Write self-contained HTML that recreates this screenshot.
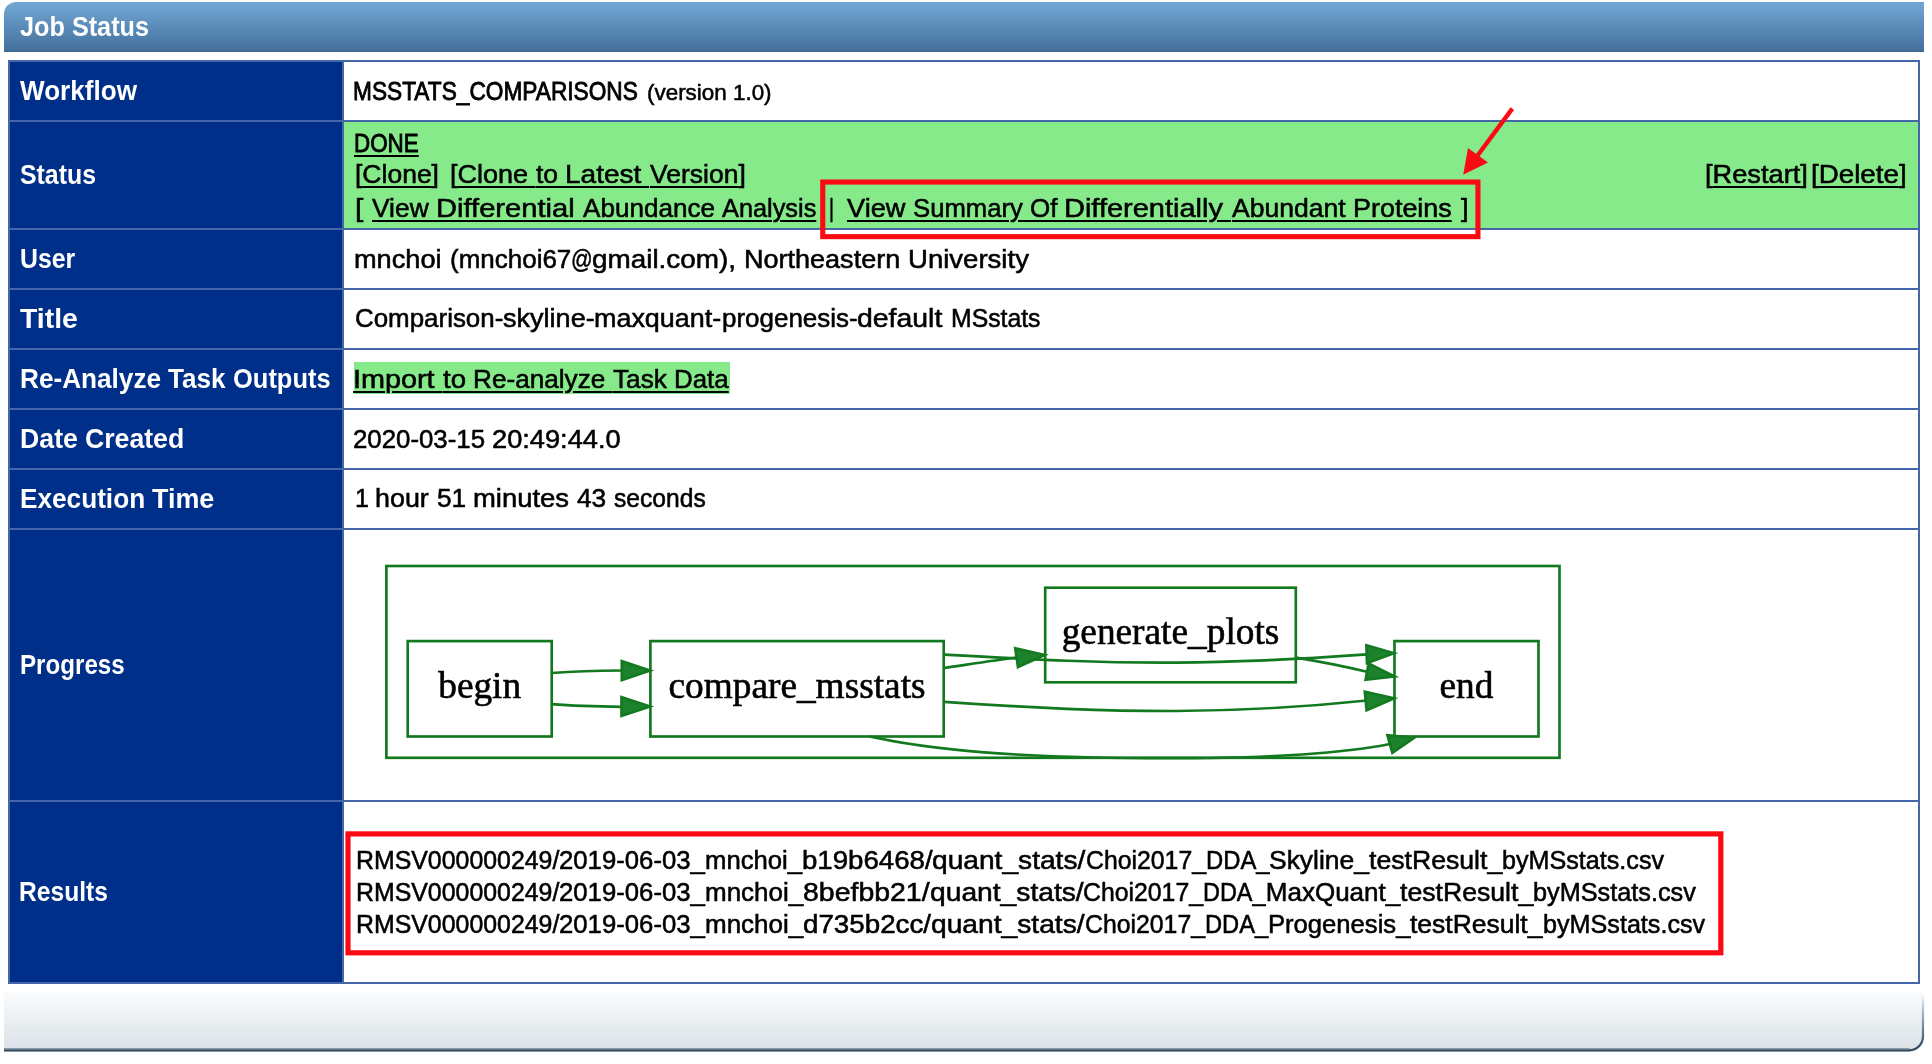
<!DOCTYPE html>
<html lang="en">
<head>
<meta charset="utf-8">
<title>Job Status</title>
<style>
html,body{margin:0;padding:0;background:#fff;}
body{width:1932px;height:1064px;position:relative;overflow:hidden;
  font-family:"Liberation Sans",sans-serif;font-size:26px;color:#000;}
#hdr{position:absolute;left:4px;top:2px;width:1920px;height:50px;color:#fff;font-weight:bold;font-size:27.6px;
  border-top-left-radius:12px;
  background:linear-gradient(to bottom,#6ba1cd 0,#72a7d3 1.5px,#5a8bb8 25px,#45719d 48px,#3b6790 50px);}
#hdr .ln{position:absolute;left:0;top:8px;width:400px;}
table{position:absolute;left:8px;top:60px;width:1912px;border-collapse:collapse;table-layout:fixed;}
td,th{border:2px solid #4566a8;padding:0;vertical-align:middle;text-align:left;}
th{background:#002f8a;color:#fff;font-weight:bold;width:332px;font-size:27.6px;}
td{background:#fff;-webkit-text-stroke:0.55px #000;}
td.g{background:#86ea8b;}
a{color:#000;text-decoration:underline;text-decoration-thickness:2.3px;text-underline-offset:3.4px;}
.ln{position:relative;z-index:1;will-change:transform;height:34px;line-height:34px;white-space:nowrap;}
.t{position:relative;display:inline-block;vertical-align:baseline;white-space:pre;transform-origin:0 50%;}
.sm{font-size:22px;}
.hv{-webkit-text-stroke:0.85px #000;}
.st .ln{height:32.5px;line-height:32.5px;}
.rs .ln{height:32px;line-height:32px;}
#hlbox{z-index:0;position:absolute;left:353.9px;top:362.3px;width:376.3px;height:31.4px;background:#86ea8b;}
</style>
</head>
<body>
<div id="hdr"><div class="ln" id="h0"><span class="t" id="h0_0" style="left:15.70px;transform:scaleX(0.9147)">Job Status</span></div></div>
<table>
<tr style="height:60px"><th><div class="ln" id="th1"><span class="t" id="th1_0" style="left:10.40px;transform:scaleX(0.9461)">Workflow</span></div></th><td><div class="ln" id="d1" style="top:-0.5px"><span class="t" id="d1_0" style="left:9.06px;transform:scaleX(0.8725)"><span class="hv">MSSTATS_COMPARISONS</span> </span><span class="t" id="d1_1" style="left:-30.45px;transform:scaleX(1.0188)"><span class="sm">(version 1.0)</span></span></div></td></tr>
<tr style="height:108px"><th><div class="ln" id="th2"><span class="t" id="th2_0" style="left:10.30px;transform:scaleX(0.9014)">Status</span></div></th><td class="g st"><div class="ln" id="s1" style="top:0.5px"><span class="t" id="s1_0" style="left:10.18px;transform:scaleX(0.8615)"><a class="hv">DONE</a></span></div><div class="ln" id="s2" style="top:-0.7px"><span class="t" id="s2_0" style="left:11.38px;transform:scaleX(1.0193)">[<a>Clone</a>] </span><span class="t" id="s2_1" style="left:16.74px;transform:scaleX(1.0391)">[<a>Clone </a></span><span class="t" id="s2_2" style="left:19.98px;transform:scaleX(1.0170)"><a>to </a></span><span class="t" id="s2_3" style="left:20.31px;transform:scaleX(1.0775)"><a>Latest </a></span><span class="t" id="s2_4" style="left:26.50px;transform:scaleX(1.0192)"><a>Version</a>]</span></div><div class="ln" id="s3" style="top:1.2px"><span class="t" id="s3_0" style="left:11.24px;transform:scaleX(1.1559)">[ </span><span class="t" id="s3_1" style="left:13.65px;transform:scaleX(1.0141)"><a>View </a></span><span class="t" id="s3_2" style="left:14.30px;transform:scaleX(1.1204)"><a>Differential </a></span><span class="t" id="s3_3" style="left:30.31px;transform:scaleX(1.0030)"><a>Abundance </a></span><span class="t" id="s3_4" style="left:30.71px;transform:scaleX(0.9740)"><a>Analysis</a> </span><span class="t" id="s3_5" style="left:33.78px;transform:scaleX(0.7333)">| </span><span class="t" id="s3_6" style="left:37.56px;transform:scaleX(1.0458)"><a>View </a></span><span class="t" id="s3_7" style="left:40.46px;transform:scaleX(0.9885)"><a>Summary </a></span><span class="t" id="s3_8" style="left:39.09px;transform:scaleX(0.9980)"><a>Of </a></span><span class="t" id="s3_9" style="left:38.78px;transform:scaleX(1.1148)"><a>Differentially </a></span><span class="t" id="s3_10" style="left:56.20px;transform:scaleX(1.0207)"><a>Abundant </a></span><span class="t" id="s3_11" style="left:58.57px;transform:scaleX(1.0356)"><a>Proteins</a> </span><span class="t" id="s3_12" style="left:64.51px;transform:scaleX(1.0500)">]</span></div><div style="position:absolute;left:-8px;top:97.9px;width:1932px"><div class="ln" id="s4" style="top:-0.5px"><span class="t" id="s4_0" style="left:1704.45px;transform:scaleX(1.0466)">[<a>Restart</a>]</span><span class="t" id="s4_1" style="left:1712.05px;transform:scaleX(1.0666)">[<a>Delete</a>]</span></div></div></td></tr>
<tr style="height:60px"><th><div class="ln" id="th3"><span class="t" id="th3_0" style="left:10.30px;transform:scaleX(0.9007)">User</span></div></th><td><div class="ln" id="d3" style="top:-0.5px"><span class="t" id="d3_0" style="left:10.46px;transform:scaleX(1.0446)">mnchoi </span><span class="t" id="d3_1" style="left:14.55px;transform:scaleX(0.9992)">(mnchoi67</span><span class="t" id="d3_2" style="left:14.81px;transform:scaleX(0.8184)">@</span><span class="t" id="d3_3" style="left:9.57px;transform:scaleX(1.0722)">gmail.com), </span><span class="t" id="d3_4" style="left:19.78px;transform:scaleX(1.0392)">Northeastern </span><span class="t" id="d3_5" style="left:25.91px;transform:scaleX(1.0595)">University</span></div></td></tr>
<tr style="height:60px"><th><div class="ln" id="th4"><span class="t" id="th4_0" style="left:10.00px;transform:scaleX(1.0290)">Title</span></div></th><td><div class="ln" id="d4" style="top:-0.7px"><span class="t" id="d4_0" style="left:10.50px;transform:scaleX(0.9965)">Comparison-</span><span class="t" id="d4_1" style="left:9.97px;transform:scaleX(1.0405)">skyline-</span><span class="t" id="d4_2" style="left:13.50px;transform:scaleX(1.0355)">maxquant-</span><span class="t" id="d4_3" style="left:17.89px;transform:scaleX(0.9989)">progenesis-</span><span class="t" id="d4_4" style="left:17.64px;transform:scaleX(1.0928)">default </span><span class="t" id="d4_5" style="left:25.72px;transform:scaleX(0.9531)">MSstats</span></div></td></tr>
<tr style="height:60px"><th><div class="ln" id="th5"><span class="t" id="th5_0" style="left:9.75px;transform:scaleX(0.9481)">Re-Analyze </span><span class="t" id="th5_1" style="left:1.58px;transform:scaleX(0.9458)">Task </span><span class="t" id="th5_2" style="left:-2.06px;transform:scaleX(0.9233)">Outputs</span></div></th><td><div class="ln" id="d5"><span class="t" id="d5_0" style="left:8.79px;transform:scaleX(1.1074)"><a>Import </a></span><span class="t" id="d5_1" style="left:17.68px;transform:scaleX(1.0586)"><a>to </a></span><span class="t" id="d5_2" style="left:19.34px;transform:scaleX(1.0062)"><a>Re-analyze </a></span><span class="t" id="d5_3" style="left:20.22px;transform:scaleX(1.0069)"><a>Task </a></span><span class="t" id="d5_4" style="left:20.64px;transform:scaleX(0.9951)"><a>Data</a></span></div></td></tr>
<tr style="height:60px"><th><div class="ln" id="th6"><span class="t" id="th6_0" style="left:9.73px;transform:scaleX(0.9678)">Date </span><span class="t" id="th6_1" style="left:7.55px;transform:scaleX(0.9654)">Created</span></div></th><td><div class="ln" id="d6" style="top:-0.5px"><span class="t" id="d6_0" style="left:9.11px;transform:scaleX(0.9927)">2020-03-15 </span><span class="t" id="d6_1" style="left:8.02px;transform:scaleX(1.0467)">20:49:44.0</span></div></td></tr>
<tr style="height:60px"><th><div class="ln" id="th7"><span class="t" id="th7_0" style="left:9.75px;transform:scaleX(0.9489)">Execution </span><span class="t" id="th7_1" style="left:2.55px;transform:scaleX(0.9739)">Time</span></div></th><td><div class="ln" id="d7" style="top:-1.3px"><span class="t" id="d7_0" style="left:10.64px;transform:scaleX(0.9639)">1 </span><span class="t" id="d7_1" style="left:9.78px;transform:scaleX(1.0344)">hour </span><span class="t" id="d7_2" style="left:11.84px;transform:scaleX(1.0099)">51 </span><span class="t" id="d7_3" style="left:12.14px;transform:scaleX(1.0553)">minutes </span><span class="t" id="d7_4" style="left:17.62px;transform:scaleX(1.0099)">43 </span><span class="t" id="d7_5" style="left:17.97px;transform:scaleX(0.9469)">seconds</span></div></td></tr>
<tr style="height:272px"><th><div class="ln" id="th8" style="top:-0.5px"><span class="t" id="th8_0" style="left:10.32px;transform:scaleX(0.8750)">Progress</span></div></th><td></td></tr>
<tr style="height:182px"><th><div class="ln" id="th9"><span class="t" id="th9_0" style="left:9.41px;transform:scaleX(0.8919)">Results</span></div></th><td class="rs"><div class="ln" id="r1" style="top:0.3px"><span class="t" id="r1_0" style="left:11.69px;transform:scaleX(0.9568)">RMSV000000249/</span><span class="t" id="r1_1" style="left:2.43px;transform:scaleX(0.9894)">2019-06-03_</span><span class="t" id="r1_2" style="left:0.86px;transform:scaleX(0.9880)">mnchoi_</span><span class="t" id="r1_3" style="left:-0.40px;transform:scaleX(1.0626)">b19b6468/</span><span class="t" id="r1_4" style="left:7.28px;transform:scaleX(1.0822)">quant_stats/</span><span class="t" id="r1_5" style="left:19.05px;transform:scaleX(0.9541)">Choi2017_</span><span class="t" id="r1_6" style="left:13.39px;transform:scaleX(0.9156)">DDA_</span><span class="t" id="r1_7" style="left:7.35px;transform:scaleX(1.0165)">Skyline_</span><span class="t" id="r1_8" style="left:8.98px;transform:scaleX(1.0241)">testResult_</span><span class="t" id="r1_9" style="left:12.14px;transform:scaleX(0.9670)">byMSstats.csv</span></div><div class="ln" id="r2" style="top:0.3px"><span class="t" id="r2_0" style="left:11.69px;transform:scaleX(0.9568)">RMSV000000249/</span><span class="t" id="r2_1" style="left:2.43px;transform:scaleX(0.9894)">2019-06-03_</span><span class="t" id="r2_2" style="left:0.85px;transform:scaleX(0.9992)">mnchoi_</span><span class="t" id="r2_3" style="left:0.67px;transform:scaleX(1.0945)">8befbb21/</span><span class="t" id="r2_4" style="left:11.61px;transform:scaleX(1.0850)">quant_stats/</span><span class="t" id="r2_5" style="left:23.78px;transform:scaleX(0.9541)">Choi2017_</span><span class="t" id="r2_6" style="left:18.15px;transform:scaleX(0.9012)">DDA_</span><span class="t" id="r2_7" style="left:11.10px;transform:scaleX(1.0000)">MaxQuant_</span><span class="t" id="r2_8" style="left:11.09px;transform:scaleX(1.0241)">testResult_</span><span class="t" id="r2_9" style="left:14.24px;transform:scaleX(0.9718)">byMSstats.csv</span></div><div class="ln" id="r3" style="top:0.3px"><span class="t" id="r3_0" style="left:11.69px;transform:scaleX(0.9568)">RMSV000000249/</span><span class="t" id="r3_1" style="left:2.43px;transform:scaleX(0.9894)">2019-06-03_</span><span class="t" id="r3_2" style="left:0.85px;transform:scaleX(0.9992)">mnchoi_</span><span class="t" id="r3_3" style="left:0.70px;transform:scaleX(1.0668)">d735b2cc/</span><span class="t" id="r3_4" style="left:8.70px;transform:scaleX(1.0843)">quant_stats/</span><span class="t" id="r3_5" style="left:20.77px;transform:scaleX(0.9541)">Choi2017_</span><span class="t" id="r3_6" style="left:15.12px;transform:scaleX(0.9113)">DDA_</span><span class="t" id="r3_7" style="left:8.81px;transform:scaleX(0.9852)">Progenesis_</span><span class="t" id="r3_8" style="left:6.64px;transform:scaleX(1.0180)">testResult_</span><span class="t" id="r3_9" style="left:8.99px;transform:scaleX(0.9676)">byMSstats.csv</span></div></td></tr>
</table>
<div id="hlbox"></div>
<svg id="graph" width="1200" height="210" viewBox="380 556 1200 210" style="position:absolute;left:380px;top:556px;will-change:transform" font-family="'Liberation Serif',serif" font-size="37.33px" text-anchor="middle">
  <g fill="none" stroke="#12791f" stroke-width="2.67">
    <rect x="386.4" y="566" width="1173.1" height="191.8"/>
    <rect x="407.7" y="641.1" width="144" height="95.4"/>
    <rect x="650.4" y="641.1" width="293.3" height="95.4"/>
    <rect x="1045.2" y="587.7" width="250.6" height="94.6"/>
    <rect x="1394.5" y="641.1" width="144" height="95.4"/>
    <path d="M552,673 C574,671.4 598,670.7 622,670.5"/>
    <path d="M552,704.2 C574,706 598,706.6 622,706.8"/>
    <path d="M944,668 C968,664.5 993,660.5 1017,657.5"/>
    <path d="M944,654.6 C1040,660 1100,663 1176,662.6 C1250,662 1310,658.3 1367,654.3"/>
    <path d="M1296,657.6 C1320,661.5 1345,666.5 1367,671.8"/>
    <path d="M944,701.8 C1040,708.5 1110,711.2 1176,711 C1250,710.6 1310,706.5 1367,700.5"/>
    <path d="M869.5,736.5 C960,756 1080,758.4 1176,758.2 C1270,758 1340,754 1390,744"/>
  </g>
  <g fill="#1c832c" stroke="#137a20" stroke-width="2.67">
    <polygon points="650,670.5 621.8,661 621.8,680.2"/>
    <polygon points="650,706.6 621.5,697.2 621.5,716"/>
    <polygon points="1044.7,655 1015.2,648.3 1018,667"/>
    <polygon points="1394,653.2 1366.4,645.3 1367,663"/>
    <polygon points="1394.5,676.4 1368.6,663.6 1365.6,679.8"/>
    <polygon points="1394,698.4 1364.8,691.8 1366.6,710.4"/>
    <polygon points="1414.5,737.6 1387.4,735.2 1392.4,752.8"/>
  </g>
  <g fill="#000" stroke="#000" stroke-width="0.6">
    <text x="479.7" y="697.5">begin</text>
    <text x="797" y="697.5">compare_msstats</text>
    <text x="1170.5" y="644.2">generate_plots</text>
    <text x="1466.5" y="697.5">end</text>
  </g>
</svg>
<svg id="ann" width="1932" height="1064" viewBox="0 0 1932 1064" style="position:absolute;left:0;top:0;z-index:3;pointer-events:none">
  <rect x="822.75" y="182.05" width="655.2" height="54.6" fill="none" stroke="#fc0a13" stroke-width="5.1"/>
  <rect x="348" y="833.9" width="1372.8" height="118.9" fill="none" stroke="#fc0a13" stroke-width="5.2"/>
  <line x1="1512.3" y1="108.6" x2="1477" y2="156.2" stroke="#fc0a13" stroke-width="4.4"/>
  <polygon points="1463.2,174.7 1468,147.9 1488,162.5" fill="#fc0a13"/>
</svg>

<svg id="ftr" width="1932" height="80" viewBox="0 984 1932 80" style="position:absolute;left:0;top:984px">
  <defs>
    <linearGradient id="fg" gradientUnits="userSpaceOnUse" x1="0" y1="992" x2="0" y2="1049">
      <stop offset="0" stop-color="#fbfcfd"/><stop offset="0.3" stop-color="#f1f4f7"/><stop offset="0.65" stop-color="#e5eaee"/><stop offset="1" stop-color="#dce3e9"/>
    </linearGradient>
    <linearGradient id="fs" gradientUnits="userSpaceOnUse" x1="0" y1="995" x2="0" y2="1046">
      <stop offset="0" stop-color="#5c7d99" stop-opacity="0"/><stop offset="0.45" stop-color="#6d8aa3" stop-opacity="0.75"/><stop offset="1" stop-color="#2e4960" stop-opacity="1"/>
    </linearGradient>
  </defs>
  <path d="M4,991.7 H1924 V1036.5 A15,15 0 0 1 1909,1051.6 H4 Z" fill="url(#fg)"/>
  <path d="M1923,993 V1036.5 A14,14 0 0 1 1909,1050.4" fill="none" stroke="url(#fs)" stroke-width="2.2"/>
  <path d="M1909.5,1050.4 H4" fill="none" stroke="#30495f" stroke-width="2.4"/>
  <path d="M1909.5,1048.6 H4" fill="none" stroke="#8697a6" stroke-width="1.2"/>
</svg>
</body>
</html>
